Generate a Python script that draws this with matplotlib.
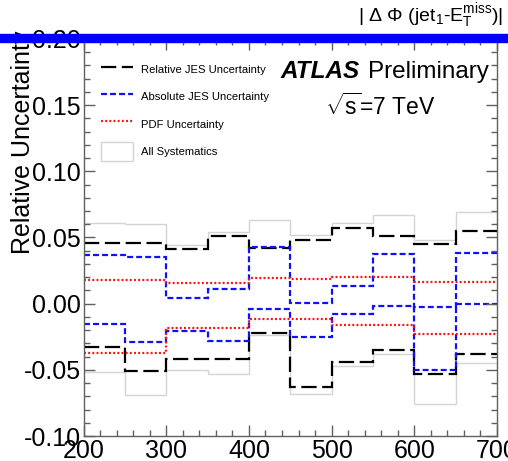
import numpy as np
import matplotlib
matplotlib.use('Agg')
import matplotlib.pyplot as plt
from matplotlib.lines import Line2D
from matplotlib.patches import Patch, Rectangle

plt.rcParams['font.family'] = ['Liberation Sans', 'DejaVu Sans']
plt.rcParams['mathtext.fontset'] = 'custom'
plt.rcParams['mathtext.rm'] = 'Liberation Sans'
plt.rcParams['mathtext.it'] = 'Liberation Sans:italic'
plt.rcParams['mathtext.bf'] = 'Liberation Sans:bold'
plt.rcParams['lines.scale_dashes'] = False

# bin edges (x axis)
edges = [200, 250, 300, 350, 400, 450, 500, 550, 600, 650, 700]

# relative JES uncertainty (up / down)
rel_up = [0.046, 0.046, 0.041, 0.051, 0.042, 0.048, 0.057, 0.0515, 0.045, 0.055]
rel_dn = [-0.033, -0.051, -0.042, -0.042, -0.022, -0.063, -0.044, -0.035, -0.053, -0.038]

# absolute JES uncertainty (up / down)
abs_up = [0.0365, 0.035, 0.0043, 0.011, 0.043, 0.0003, 0.013, 0.0376, -0.0028, 0.038]
abs_dn = [-0.015, -0.029, -0.0205, -0.028, -0.004, -0.025, -0.008, -0.0018, -0.050, -0.0003]

# PDF uncertainty (up / down)
pdf_up = [0.018, 0.0176, 0.0157, 0.0157, 0.0192, 0.019, 0.020, 0.020, 0.0167, 0.0167]
pdf_dn = [-0.0374, -0.0374, -0.0184, -0.0184, -0.0119, -0.0119, -0.0159, -0.0159, -0.023, -0.023]

# all systematics (up / down)
sys_up = [0.061, 0.060, 0.044, 0.054, 0.0634, 0.052, 0.061, 0.0667, 0.048, 0.069]
sys_dn = [-0.052, -0.069, -0.050, -0.053, -0.024, -0.068, -0.047, -0.038, -0.0755, -0.0445]

W, H = 508, 461
fig = plt.figure(figsize=(W / 100, H / 100), dpi=100)
ax = fig.add_axes([83.5 / W, 1 - 436 / H, (497 - 83.5) / W, (436 - 39) / H])

gray = '#d4d4d4'
ax.stairs(sys_up, edges, baseline=None, color=gray, lw=1)
ax.stairs(sys_dn, edges, baseline=None, color=gray, lw=1)

black_dash = (0, (11, 4))
blue_dash = (0, (4.3, 2.2))
red_dot = (0, (1.4, 1.6))

ax.stairs(rel_up, edges, baseline=None, color='black', lw=1.6, linestyle=black_dash)
ax.stairs(rel_dn, edges, baseline=None, color='black', lw=1.6, linestyle=black_dash)
ax.stairs(abs_up, edges, baseline=None, color='#1010ff', lw=1.6, linestyle=blue_dash)
ax.stairs(abs_dn, edges, baseline=None, color='#1010ff', lw=1.6, linestyle=blue_dash)
ax.stairs(pdf_up, edges, baseline=None, color='#ff1010', lw=1.6, linestyle=red_dot)
ax.stairs(pdf_dn, edges, baseline=None, color='#ff1010', lw=1.6, linestyle=red_dot)

ax.set_xlim(200, 700)
ax.set_ylim(-0.10, 0.20)
ax.set_xticks([200, 300, 400, 500, 600, 700])
ax.set_xticks(np.arange(200, 701, 20), minor=True)
ax.set_yticks([-0.10, -0.05, 0.0, 0.05, 0.10, 0.15, 0.20])
ax.set_yticklabels(['-0.10', '-0.05', '0.00', '0.05', '0.10', '0.15', '0.20'])
ax.set_yticks(np.arange(-0.10, 0.2001, 0.01), minor=True)

axcol = '#606060'
for s in ax.spines.values():
    s.set_color(axcol)
    s.set_linewidth(1)
ax.tick_params(which='both', direction='in', top=True, right=True, color=axcol, width=1)
ax.tick_params(which='major', length=8, labelsize=18, pad=2)
ax.tick_params(which='minor', length=4)

ax.set_ylabel('Relative Uncertainty', fontsize=18, loc='top')
ax.yaxis.set_label_coords((35 - 83.5) / 413.5, 1.02)

handles = [
    Line2D([], [], color='black', lw=1.6, linestyle=black_dash),
    Line2D([], [], color='#1010ff', lw=1.6, linestyle=blue_dash),
    Line2D([], [], color='#ff1010', lw=1.6, linestyle=red_dot),
    Patch(facecolor='white', edgecolor=gray, lw=1),
]
labels = ['Relative JES Uncertainty', 'Absolute JES Uncertainty',
          'PDF Uncertainty', 'All Systematics']
ax.legend(handles, labels, loc='upper left', bbox_to_anchor=(101 / W, 1 - 60 / H),
          bbox_transform=fig.transFigure, frameon=False, fontsize=8.1,
          handlelength=2.85, handleheight=2.22, handletextpad=0.68,
          labelspacing=0.75, borderpad=0, borderaxespad=0)

fig.text(280 / W, 1 - 72 / H, 'ATLAS', fontsize=17.5, fontweight='bold', style='italic',
         va='center', ha='left')
fig.text(368 / W, 1 - 72 / H, 'Preliminary', fontsize=17.5, va='center', ha='left')
fig.text(325 / W, 1 - 107 / H, r'$\sqrt{\rm s}$=7 TeV', fontsize=16.5, va='center', ha='left')

fig.text(503 / W, 1 - 16 / H, r'| $\Delta$ $\Phi$ (jet$_{1}$-E$_{\rm T}^{\rm miss}$)|',
         fontsize=14, va='center', ha='right')

# blue band across the top
fig.add_artist(Rectangle((0, 1 - 42 / H), 1, 8 / H, transform=fig.transFigure,
                         color='#0000ff', zorder=10))

fig.savefig('out.png', dpi=100)
